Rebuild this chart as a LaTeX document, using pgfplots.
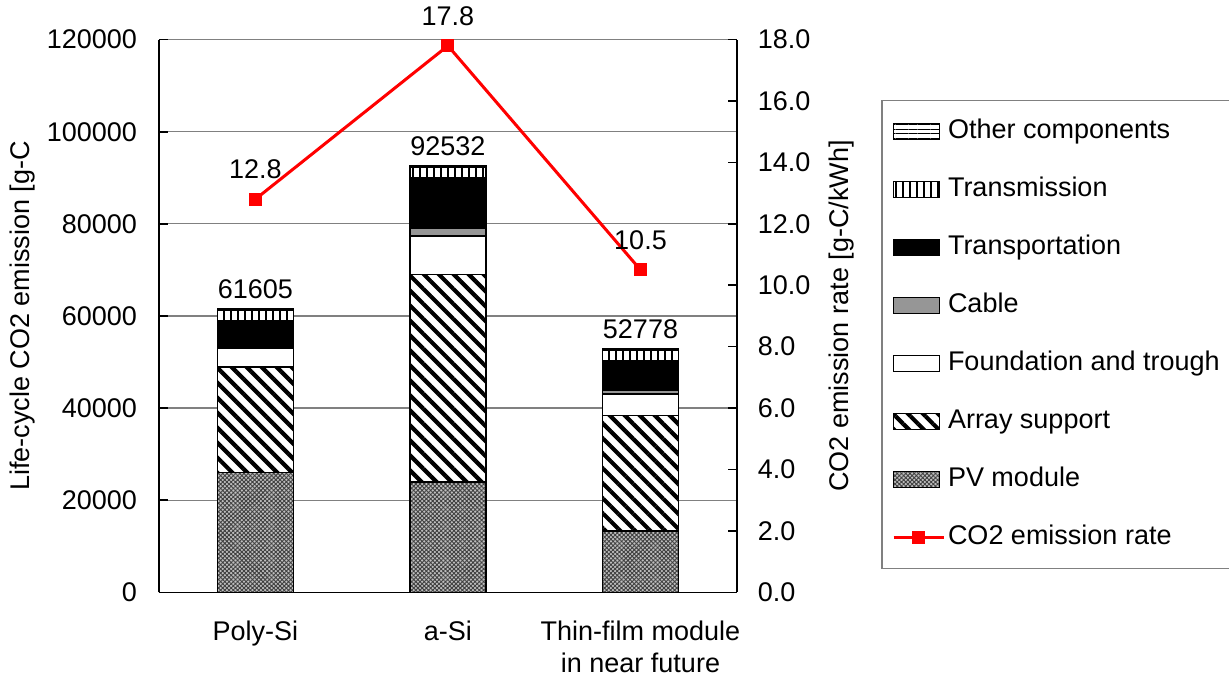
\documentclass[border=0pt]{standalone}
\usepackage{pgfplots}
\pgfplotsset{compat=1.18}
\usepackage{fontspec}
\setmainfont{Liberation Sans}
\usetikzlibrary{patterns,patterns.meta}
\definecolor{cablegray}{RGB}{150,150,150}
\definecolor{gridgray}{RGB}{128,128,128}
\pgfplotsset{
  barimg/.style={legend image code/.code={\draw[##1] (0pt,-4pt) rectangle (23pt,4pt);}},
  lineimg/.style={legend image code/.code={\draw[##1, mark=none] (0pt,0pt) -- (25pt,0pt); \fill[red] (10pt,-2.6pt) rectangle (15.2pt,2.6pt);}},
}
\begin{document}
\begin{tikzpicture}[font=\fontsize{13.5}{16}\selectfont]
\path[use as bounding box] (-79.5pt,-41.35pt) rectangle (535pt,296.15pt);
\begin{axis}[
  scale only axis, width=288.9pt, height=276.35pt,
  at={(0,0)}, anchor=south west,
  xmin=-0.5, xmax=2.5, ymin=0, ymax=120000,
  ybar stacked, bar width=38pt,
  axis x line*=bottom, axis y line*=left,
  axis line style={black, line width=0.8pt},
  xtick={0,1,2},
  xticklabels={Poly-Si, a-Si, {Thin-film module\\in near future}},
  xticklabel style={align=center, yshift=-11pt},
  x tick style={draw=none},
  ytick={0,20000,...,120000},
  scaled y ticks=false,
  yticklabel style={xshift=-7.5pt, /pgf/number format/fixed, /pgf/number format/set thousands separator={}, /pgf/number format/assume math mode=true},
  tick align=inside, major tick length=4.5pt,
  y tick style={black, line width=0.8pt},
  ymajorgrids, grid style={gridgray, line width=0.6pt},
  ylabel={Life-cycle CO2 emission [g-C},
  ylabel style={at={(axis description cs:-0.237,0.5)}, anchor=center},
  reverse legend,
  legend style={at={(axis description cs:1.2499,0.8915)}, anchor=north west,
    draw=gridgray, line width=0.8pt, inner xsep=5pt, inner ysep=7.5pt, row sep=13pt,
    nodes={inner sep=1.5pt, text height=10pt, text depth=3pt},
    cells={anchor=west}, font=\fontsize{13.5}{16}\selectfont},
]
\addlegendimage{red, line width=1.5pt, lineimg}
\addlegendentry{CO2 emission rate}
\addplot[barimg, draw=black, line width=0.8pt, fill=black!25,
  postaction={pattern={Hatch[angle=45,distance=1.5pt,line width=0.45pt]}, pattern color=black!75}]
  coordinates {(0,26000) (1,24000) (2,13300)};
\addlegendentry{PV module}
\addplot[barimg, draw=black, line width=0.8pt, fill=white,
  postaction={pattern={Lines[angle=-45,distance=5.3pt,line width=2.1pt]}, pattern color=black}]
  coordinates {(0,22900) (1,45000) (2,25100)};
\addlegendentry{Array support}
\addplot[barimg, draw=black, line width=0.8pt, fill=white]
  coordinates {(0,4100) (1,8300) (2,4600)};
\addlegendentry{Foundation and trough}
\addplot[barimg, draw=black, line width=0.8pt, fill=cablegray]
  coordinates {(0,200) (1,1800) (2,800)};
\addlegendentry{Cable}
\addplot[barimg, draw=black, line width=0.8pt, fill=black]
  coordinates {(0,5800) (1,10900) (2,6500)};
\addlegendentry{Transportation}
\addplot[barimg, draw=black, line width=0.8pt, fill=white,
  postaction={pattern={Lines[angle=90,distance=3.5pt,line width=1.1pt]}, pattern color=black}]
  coordinates {(0,2300) (1,2200) (2,2200)};
\addlegendentry{Transmission}
\addplot[barimg, draw=black, line width=0.8pt, fill=white,
  postaction={pattern={Lines[angle=0,distance=2.2pt,line width=0.5pt]}, pattern color=black}]
  coordinates {(0,305) (1,332) (2,278)};
\addlegendentry{Other components}
\end{axis}
% totals above the bars (same scale as the left axis)
\begin{axis}[
  scale only axis, width=288.9pt, height=276.35pt,
  at={(0,0)}, anchor=south west,
  xmin=-0.5, xmax=2.5, ymin=0, ymax=120000,
  hide axis, clip=false,
]
\addplot[draw=none, mark=none, nodes near coords, point meta=explicit symbolic,
  every node near coord/.append style={black, yshift=1.5pt, font=\fontsize{13.5}{16}\selectfont}]
  coordinates {(0,61605)[61605] (1,92532)[92532] (2,52778)[52778]};
\end{axis}
\begin{axis}[
  scale only axis, width=288.9pt, height=276.35pt,
  at={(0,0)}, anchor=south west,
  xmin=-0.5, xmax=2.5, ymin=0, ymax=18,
  axis x line=none, axis y line*=right,
  axis line style={black, line width=0.8pt},
  ytick={0,2,...,18},
  yticklabel style={xshift=7pt, /pgf/number format/fixed, /pgf/number format/fixed zerofill, /pgf/number format/precision=1, /pgf/number format/assume math mode=true},
  tick align=inside, major tick length=4.5pt,
  y tick style={black, line width=0.8pt},
  ylabel={CO2 emission rate [g-C/kWh]},
  ylabel style={at={(axis description cs:1.1817,0.5)}, anchor=center},
]
\addplot[red, line width=1.5pt, mark=square*, mark size=2.5pt,
  nodes near coords, point meta=explicit symbolic,
  every node near coord/.append style={black, yshift=6pt, font=\fontsize{13.5}{16}\selectfont}]
  coordinates {(0,12.8)[12.8] (1,17.8)[17.8] (2,10.5)[10.5]};
\end{axis}
\end{tikzpicture}
\end{document}
